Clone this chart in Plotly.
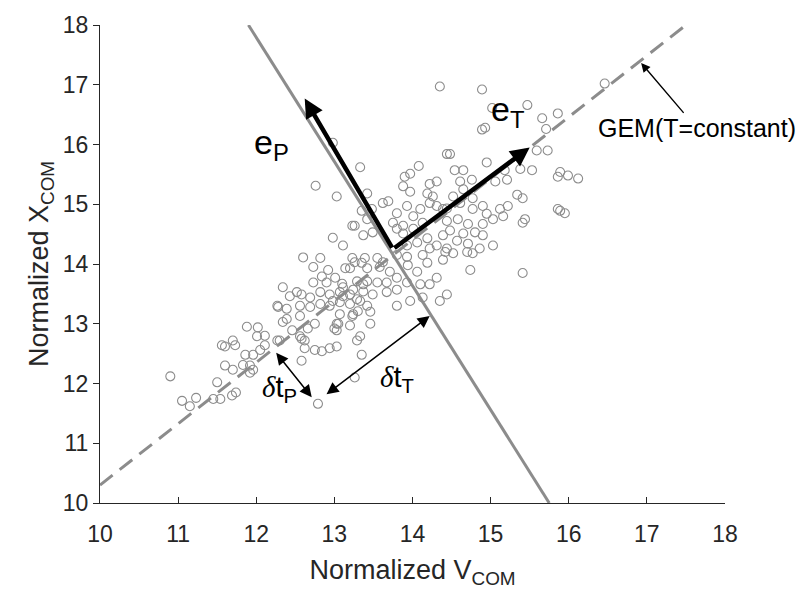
import plotly.graph_objects as go

# Scatter data (Normalized V_COM, Normalized X_COM)
v_com = [10.90, 11.05, 11.15, 11.23, 11.50, 11.45, 11.54, 11.69, 11.74, 11.60, 11.70, 11.83, 11.92, 11.86, 11.96,
         12.05, 11.56, 11.60, 11.70, 11.73, 11.88, 12.02, 12.01, 12.11, 12.11, 12.27, 11.92, 11.96, 12.27, 12.39,
         12.46, 12.58, 12.62, 12.56, 12.66, 12.62, 12.75, 12.84, 12.94, 13.03, 13.29, 13.35, 13.00, 13.03, 12.58,
         13.26, 12.79, 12.30, 12.34, 12.39, 12.56, 12.75, 13.05, 13.30, 13.23, 13.33, 12.28, 12.56, 12.69, 12.82,
         12.94, 13.07, 12.52, 12.43, 12.58, 12.69, 12.82, 12.94, 13.07, 13.20, 13.29, 12.34, 12.73, 12.90, 13.10,
         13.29, 13.37, 12.84, 13.01, 12.73, 12.92, 13.20, 13.26, 13.35, 13.39, 12.60, 12.82, 12.98, 13.11,
         13.26, 13.37, 13.49, 13.80, 13.88, 14.01, 13.93, 14.06, 14.19, 14.22, 14.31, 14.39, 14.44, 14.13, 13.80,
         13.93, 13.23, 13.55, 13.62, 13.14, 13.42, 13.58, 13.71, 13.94, 14.06, 14.19, 14.31, 14.10, 14.22, 13.80,
         13.93, 13.67, 13.55, 13.42, 13.11, 13.24, 13.37, 13.49, 13.67, 13.80, 13.80, 13.97, 14.13, 14.44, 12.98,
         13.11, 13.20, 13.33, 13.42, 13.46, 13.24, 13.07, 13.03, 13.20, 13.46, 14.35,
         12.98, 13.33, 13.03, 14.44, 14.08, 13.90, 13.97, 13.23, 13.42, 13.48, 13.69, 14.22, 14.31, 14.19, 14.26,
         13.88, 13.97, 12.76, 13.80, 13.93, 14.01, 14.10, 14.13, 14.22, 14.31, 14.39, 13.75, 13.88, 13.42, 13.62,
         13.35,
         14.54, 14.65, 15.38, 15.53, 15.86, 14.61, 14.76, 15.21, 15.06, 14.65, 15.34, 15.41, 14.52, 14.77, 14.44,
         14.61, 14.77, 14.90, 15.22, 15.12, 14.95, 15.16, 15.03, 14.90, 15.41, 15.86, 14.44, 14.58, 14.71, 14.48,
         14.65, 14.80, 14.90, 14.57, 14.71, 14.86, 15.03, 14.42, 14.52, 14.70, 14.77, 14.39, 14.74, 15.41, 15.44,
         14.35, 14.89, 15.02, 15.47, 14.89, 14.93, 15.66, 15.86, 15.71, 14.48, 15.59, 15.73, 14.95, 16.46, 15.89,
         15.99, 16.12, 15.89, 15.95, 15.18]
x_com = [12.12, 11.71, 11.62, 11.76, 12.02, 11.74, 11.74, 11.80, 11.85, 12.30, 12.23, 12.31, 12.30, 12.48, 12.48,
         12.56, 12.64, 12.62, 12.72, 12.64, 12.95, 12.94, 12.79, 12.80, 12.64, 12.72, 12.18, 12.23, 13.30, 13.25,
         12.89, 12.75, 12.72, 12.79, 12.92, 12.59, 12.56, 12.54, 12.59, 12.62, 12.72, 12.48, 12.92, 12.89, 12.38,
         12.10, 11.66, 12.72, 13.03, 13.08, 13.13, 13.00, 13.00, 13.21, 13.13, 12.79, 13.28, 13.30, 13.28, 13.33,
         13.30, 13.36, 13.53, 13.46, 13.49, 13.44, 13.53, 13.49, 13.53, 13.49, 13.41, 13.61, 13.69, 13.69, 13.67,
         13.71, 13.66, 13.79, 13.77, 13.95, 13.90, 13.93, 14.03, 14.02, 14.10, 14.11, 14.10, 14.44, 14.31,
         14.64, 14.48, 14.53, 14.59, 14.51, 14.59, 14.31, 14.36, 14.43, 14.26, 14.31, 14.48, 14.26, 14.15, 14.15,
         14.12, 14.10, 14.10, 14.03, 13.93, 13.93, 13.95, 13.87, 13.98, 13.87, 14.02, 13.77, 13.66, 13.66, 13.77,
         13.69, 13.69, 13.69, 13.71, 13.61, 13.57, 13.54, 13.49, 13.53, 13.57, 13.30, 13.38, 13.44, 13.49, 13.38,
         13.46, 13.33, 13.38, 13.30, 13.20, 13.16, 13.16, 13.00, 12.97, 13.00, 13.38,
         16.03, 15.62, 15.13, 15.84, 15.64, 15.46, 15.51, 14.64, 15.18, 14.92, 15.05, 15.34, 15.38, 15.18, 15.13,
         15.30, 15.21, 15.31, 14.85, 14.97, 14.80, 14.92, 14.69, 15.02, 14.97, 14.92, 14.69, 14.64, 14.75, 15.02,
         14.89,
         15.57, 15.57, 15.59, 15.57, 15.46, 15.38, 15.41, 15.41, 15.38, 15.25, 15.16, 15.10, 15.13, 15.10, 14.93,
         15.02, 14.92, 14.97, 14.97, 14.92, 14.84, 14.80, 14.75, 14.67, 14.69, 14.92, 14.72, 14.75, 14.67, 14.56,
         14.51, 14.53, 14.48, 14.39, 14.34, 14.26, 14.31, 14.20, 14.18, 14.20, 14.18, 14.07, 13.90, 13.85, 14.75,
         16.97, 16.92, 16.61, 16.66, 16.25, 16.28, 16.44, 16.52, 16.26, 15.84, 15.90, 15.90, 15.70, 17.02, 15.54,
         15.48, 15.43, 14.89, 14.85, 15.57]

# Reference lines
gem_v = [10.0, 17.5]
gem_x = [10.3, 18.0]
perp_v = [11.9, 15.75]
perp_x = [18.0, 10.0]

# Principal direction arrows (origin, tips)
origin = (13.75, 14.25)
eP_tip = (12.62, 16.77)
eT_tip = (15.50, 15.95)

# Deviation arrows
dtP_start, dtP_end = (12.24, 12.54), (12.71, 11.77)
dtT_start, dtT_end = (12.88, 11.80), (14.22, 13.13)

GRAY = "#8c8c8c"
AX = "#262626"
FONT = "Liberation Sans, Arial, sans-serif"

fig = go.Figure()
fig.add_trace(go.Scatter(x=v_com, y=x_com, mode="markers",
                         marker=dict(symbol="circle-open", size=9, color=GRAY, line=dict(width=1.1, color=GRAY)),
                         showlegend=False, hoverinfo="skip"))
fig.add_trace(go.Scatter(x=gem_v, y=gem_x, mode="lines",
                         line=dict(color=GRAY, width=3, dash="16px,9px"), showlegend=False))
fig.add_trace(go.Scatter(x=perp_v, y=perp_x, mode="lines",
                         line=dict(color=GRAY, width=3), showlegend=False))

ann = []
for tip in (eP_tip, eT_tip):
    ann.append(dict(x=tip[0], y=tip[1], ax=origin[0], ay=origin[1], xref="x", yref="y", axref="x", ayref="y",
                    text="", showarrow=True, arrowhead=2, arrowsize=0.85, arrowwidth=4.5, arrowcolor="black"))
for s, e in ((dtP_start, dtP_end), (dtT_start, dtT_end)):
    ann.append(dict(x=e[0], y=e[1], ax=s[0], ay=s[1], xref="x", yref="y", axref="x", ayref="y",
                    text="", showarrow=True, arrowhead=2, startarrowhead=2, arrowside="end+start",
                    arrowsize=1.6, startarrowsize=1.6, arrowwidth=1.5, arrowcolor="black"))
ann.append(dict(x=16.91, y=17.39, ax=17.64, ay=16.27, xref="x", yref="y", axref="x", ayref="y",
                text="GEM(T=constant)", showarrow=True, arrowhead=2, arrowsize=1.3, arrowwidth=1.4,
                arrowcolor="black", standoff=2, font=dict(family=FONT, size=25, color="black")))
ann.append(dict(x=12.2, y=16.0, xref="x", yref="y", text="e<sub>P</sub>", showarrow=False,
                font=dict(family=FONT, size=34, color="black")))
ann.append(dict(x=15.22, y=16.55, xref="x", yref="y", text="e<sub>T</sub>", showarrow=False,
                font=dict(family=FONT, size=34, color="black")))
ann.append(dict(x=12.3, y=11.9, xref="x", yref="y",
                text="<span style='font-family:Liberation Serif;font-style:italic'>δ</span>t<sub>P</sub>",
                showarrow=False, font=dict(family=FONT, size=29, color="black")))
ann.append(dict(x=13.8, y=12.08, xref="x", yref="y",
                text="<span style='font-family:Liberation Serif;font-style:italic'>δ</span>t<sub>T</sub>",
                showarrow=False, font=dict(family=FONT, size=29, color="black")))

fig.update_layout(
    width=798, height=596, margin=dict(l=100, r=73, t=15, b=93),
    paper_bgcolor="white", plot_bgcolor="white",
    font=dict(family=FONT, color=AX),
    annotations=ann,
    xaxis=dict(range=[10, 18], dtick=1, showgrid=False, zeroline=False, showline=True, linecolor=AX,
               linewidth=1, ticks="inside", ticklen=6, tickcolor=AX, tickfont=dict(size=23, color=AX),
               ticklabelstandoff=10,
               title=dict(text="Normalized V<sub>COM</sub>", font=dict(size=27, color=AX), standoff=14)),
    yaxis=dict(range=[10, 18], dtick=1, showgrid=False, zeroline=False, showline=True, linecolor=AX,
               linewidth=1, ticks="outside", ticklen=6, tickcolor=AX, tickfont=dict(size=23, color=AX),
               title=dict(text="Normalized X<sub>COM</sub>", font=dict(size=27, color=AX), standoff=6)),
)
fig.write_html("out.html")
